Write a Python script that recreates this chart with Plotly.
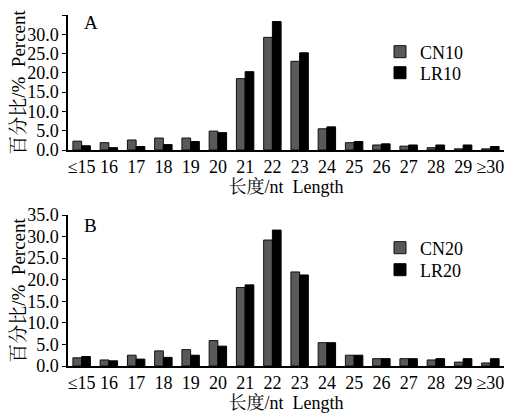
import plotly.graph_objects as go

categories = ["≤15", "16", "17", "18", "19", "20", "21", "22", "23", "24", "25", "26", "27", "28", "29", "≥30"]
cn10 = [2.3, 1.9, 2.6, 3.1, 3.1, 4.9, 18.5, 29.2, 23.0, 5.5, 1.9, 1.3, 1.0, 0.6, 0.3, 0.3]
lr10 = [1.1, 0.6, 0.9, 1.4, 2.2, 4.5, 20.3, 33.3, 25.2, 6.0, 2.2, 1.6, 1.3, 1.3, 1.3, 0.9]
cn20 = [1.9, 1.4, 2.5, 3.5, 3.8, 5.9, 18.2, 29.2, 21.8, 5.4, 2.5, 1.7, 1.7, 1.4, 0.9, 0.7]
lr20 = [2.2, 1.2, 1.6, 2.0, 2.5, 4.6, 18.8, 31.5, 21.1, 5.4, 2.5, 1.7, 1.7, 1.7, 1.7, 1.7]
y_ticks = [0, 5, 10, 15, 20, 25, 30, 35]
y_ticklabels = ["0.0", "5.0", "10.0", "15.0", "20.0", "25.0", "30.0", "35.0"]

FONT = "Liberation Serif, Times New Roman, Noto Serif CJK SC, Noto Sans CJK SC, serif"
GRAY = "#595959"
W, H = 523, 419
OFF = 8  # page body margin


def px_x(p):
    return (p - OFF) / W


def px_y(p):
    return (H - (p - OFF)) / H


fig = go.Figure()
fig.add_trace(go.Bar(x=categories, y=cn10, name="CN10", marker=dict(color=GRAY, line=dict(color="#111", width=1)),
                     xaxis="x", yaxis="y", legend="legend", showlegend=True))
fig.add_trace(go.Bar(x=categories, y=lr10, name="LR10", marker=dict(color="black", line=dict(color="black", width=1)),
                     xaxis="x", yaxis="y", legend="legend2", showlegend=True))
fig.add_trace(go.Bar(x=categories, y=cn20, name="CN20", marker=dict(color=GRAY, line=dict(color="#111", width=1)),
                     xaxis="x2", yaxis="y2", legend="legend3", showlegend=True))
fig.add_trace(go.Bar(x=categories, y=lr20, name="LR20", marker=dict(color="black", line=dict(color="black", width=1)),
                     xaxis="x2", yaxis="y2", legend="legend4", showlegend=True))

xd = [px_x(68), px_x(504)]
ydA = [px_y(150), px_y(15)]
ydB = [px_y(366), px_y(215)]

xax = dict(domain=xd, showline=True, linecolor="black", linewidth=1.5, ticks="", showgrid=False,
           automargin=False,
           tickfont=dict(family=FONT, size=18, color="black"),
           title=dict(text="长度/nt  Length", font=dict(family=FONT, size=18, color="black"), standoff=2))
yax = dict(range=[0, 35], tickvals=y_ticks, ticktext=y_ticklabels, showline=True, linecolor="black", linewidth=1.5,
           ticks="outside", ticklen=4, tickcolor="black", showgrid=False, zeroline=False, automargin=False,
           tickfont=dict(family=FONT, size=18, color="black"),
           title=dict(text="百分比/%  Percent", font=dict(family=FONT, size=19, color="black"), standoff=0))


def leg(cy):
    return dict(x=px_x(380), y=px_y(cy), xanchor="left", yanchor="middle", bgcolor="rgba(0,0,0,0)",
                font=dict(family=FONT, size=18, color="black"), itemwidth=30)


fig.update_layout(
    width=W, height=H, margin=dict(l=0, r=0, t=0, b=0, autoexpand=False),
    paper_bgcolor="white", plot_bgcolor="white", showlegend=True,
    barmode="group", bargap=0.36, bargroupgap=0.0,
    xaxis=dict(xax, anchor="y"),
    yaxis=dict(yax, domain=ydA, anchor="x"),
    xaxis2=dict(xax, anchor="y2"),
    yaxis2=dict(yax, domain=ydB, anchor="x2"),
    legend=leg(52), legend2=leg(73), legend3=leg(248), legend4=leg(270),
    annotations=[
        dict(text="A", x=px_x(82), y=px_y(22), xref="paper", yref="paper", showarrow=False,
             xanchor="left", yanchor="middle", font=dict(family=FONT, size=19, color="black")),
        dict(text="B", x=px_x(82), y=px_y(225), xref="paper", yref="paper", showarrow=False,
             xanchor="left", yanchor="middle", font=dict(family=FONT, size=19, color="black")),
    ],
)

fig.write_html("out.html")
